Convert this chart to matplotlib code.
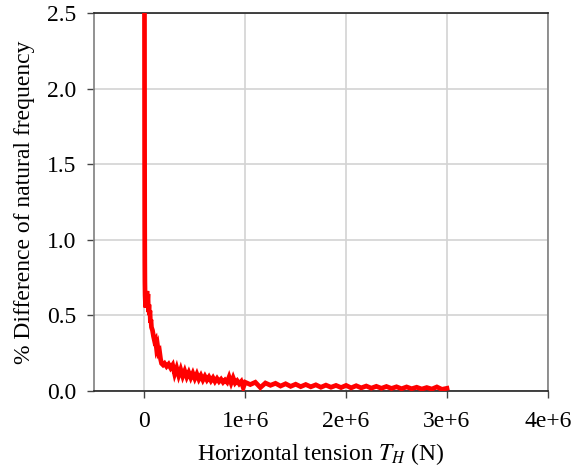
import numpy as np
import matplotlib
matplotlib.use('Agg')
import matplotlib.pyplot as plt

# horizontal tension (in 1e6 N) and % difference of natural frequency
tension_MN = [0.000, 0.001, 0.002, 0.003, 0.004, 0.005, 0.007, 0.010, 0.015,
              0.020, 0.025, 0.030, 0.035, 0.040, 0.045, 0.050, 0.055, 0.060,
              0.065, 0.070, 0.080, 0.090, 0.100, 0.110, 0.120, 0.130, 0.140,
              0.150, 0.160, 0.170, 0.185,
              0.20, 0.22, 0.24, 0.26, 0.28, 0.30, 0.32, 0.34, 0.36, 0.38,
              0.40, 0.42, 0.44, 0.46, 0.48, 0.50, 0.52, 0.54, 0.56, 0.58,
              0.60, 0.62, 0.64, 0.66, 0.68, 0.70, 0.72, 0.74, 0.76, 0.78,
              0.80, 0.82, 0.84, 0.86, 0.88, 0.90, 0.92, 0.94, 0.96, 0.98,
              1.00, 1.05, 1.10, 1.15, 1.20, 1.25, 1.30, 1.35, 1.40, 1.45,
              1.50, 1.55, 1.60, 1.65, 1.70, 1.75, 1.80, 1.85, 1.90, 1.95,
              2.00, 2.05, 2.10, 2.15, 2.20, 2.25, 2.30, 2.35, 2.40, 2.45,
              2.50, 2.55, 2.60, 2.65, 2.70, 2.75, 2.80, 2.85, 2.90, 2.95,
              3.00]
freq_diff = [3.20, 2.40, 1.60, 1.10, 0.85, 0.72, 0.63, 0.58, 0.55,
             0.60, 0.66, 0.58, 0.64, 0.52, 0.57, 0.50, 0.53, 0.45,
             0.47, 0.42, 0.40, 0.36, 0.33, 0.34, 0.28, 0.30, 0.25,
             0.26, 0.21, 0.18, 0.17,
             0.18, 0.16, 0.175, 0.15, 0.17, 0.11, 0.15, 0.10, 0.14, 0.095,
             0.13, 0.09, 0.12, 0.085, 0.115, 0.08, 0.11, 0.075, 0.10, 0.07,
             0.095, 0.07, 0.09, 0.065, 0.085, 0.06, 0.08, 0.06, 0.075, 0.055,
             0.07, 0.055, 0.09, 0.05, 0.085, 0.05, 0.065, 0.045, 0.06, 0.02,
             0.055, 0.04, 0.055, 0.02, 0.05, 0.035, 0.048, 0.03, 0.045, 0.028,
             0.042, 0.026, 0.04, 0.025, 0.038, 0.022, 0.036, 0.022, 0.034, 0.02,
             0.034, 0.018, 0.032, 0.018, 0.03, 0.016, 0.028, 0.015, 0.027, 0.014,
             0.025, 0.012, 0.024, 0.012, 0.022, 0.01, 0.02, 0.01, 0.024, 0.008,
             0.015]

xticks = [0, 1e6, 2e6, 3e6, 4e6]
xtick_labels = ['0', '1e+6', '2e+6', '3e+6', '4e+6']
yticks = [0.0, 0.5, 1.0, 1.5, 2.0, 2.5]

plt.rcParams['font.family'] = ['Liberation Serif', 'DejaVu Serif']
plt.rcParams['mathtext.fontset'] = 'stix'
plt.rcParams['font.size'] = 17

fig = plt.figure(figsize=(5.73, 4.74), dpi=100)
ax = fig.add_axes([0.164, 0.176, 0.792, 0.796])

x = np.array(tension_MN) * 1e6
ax.plot(x, freq_diff, color='#ff0000', lw=3.4, solid_joinstyle='miter', zorder=3)

ax.set_xlim(-0.5e6, 4e6)
ax.set_ylim(0, 2.5)
ax.set_xticks(xticks)
ax.set_xticklabels(xtick_labels)
ax.set_yticks(yticks)
ax.set_yticklabels(['%.1f' % v for v in yticks])
ax.grid(True, color='#d3d3d3', lw=1.2)
ax.set_axisbelow(True)
ax.tick_params(direction='out', length=5, width=1, color='#444444')
ax.tick_params(axis='x', pad=10)
ax.tick_params(axis='y', pad=8)

for s in ['left', 'right']:
    ax.spines[s].set_color('#7f7f7f')
for s in ['top', 'bottom']:
    ax.spines[s].set_color('#222222')
for s in ax.spines.values():
    s.set_linewidth(1.2)

ax.set_xlabel('Horizontal tension $T_H$ (N)', labelpad=6)
ax.set_ylabel('% Difference of natural frequency', labelpad=8)

fig.savefig('out.png', dpi=100)
